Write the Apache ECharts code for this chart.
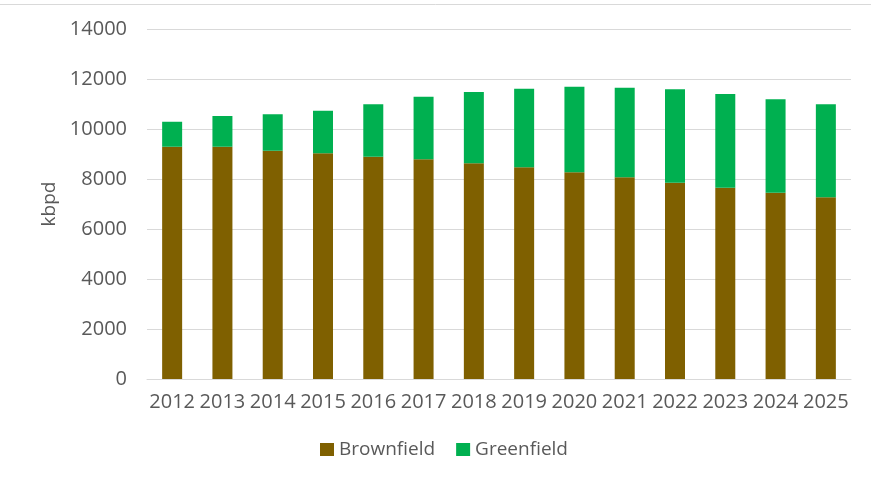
<!DOCTYPE html>
<html>
<head>
<meta charset="utf-8">
<script src="https://cdn.jsdelivr.net/npm/echarts@6/dist/echarts.min.js"></script>
<style>
html,body{margin:0;padding:0;background:#fff;}
#chart{width:871px;height:478px;}
</style>
</head>
<body>
<div id="chart"></div>
<script>
var years = ['2012','2013','2014','2015','2016','2017','2018','2019','2020','2021','2022','2023','2024','2025'];
var brownfield = [9290,9290,9130,9030,8890,8790,8630,8470,8270,8070,7850,7650,7450,7270];
var greenfield = [1000,1230,1460,1700,2100,2500,2850,3140,3420,3580,3740,3750,3740,3720];
var yTicks = [0,2000,4000,6000,8000,10000,12000,14000];

var font = '"Open Sans", sans-serif';
var textColor = '#595959';
var chart = echarts.init(document.getElementById('chart'));
chart.setOption({
  animation: false,
  backgroundColor: '#ffffff',
  graphic: [{
    type: 'line',
    shape: {x1: 0, y1: 4.5, x2: 871, y2: 4.5},
    style: {stroke: '#d9d9d9', lineWidth: 1}
  }],
  grid: {left: 147, right: 20, top: 29, bottom: 99},
  legend: {
    data: ['Brownfield', 'Greenfield'],
    bottom: 14,
    left: 315,
    itemWidth: 14,
    itemHeight: 13,
    itemGap: 21,
    icon: 'rect',
    textStyle: {fontFamily: font, fontSize: 19, color: textColor}
  },
  xAxis: {
    type: 'category',
    data: years,
    axisLine: {lineStyle: {color: '#d9d9d9'}},
    axisTick: {show: false},
    axisLabel: {fontFamily: font, fontSize: 20, color: textColor, margin: 13, interval: 0}
  },
  yAxis: {
    type: 'value',
    min: yTicks[0],
    max: yTicks[yTicks.length - 1],
    interval: 2000,
    name: 'kbpd',
    nameLocation: 'middle',
    nameGap: 88,
    nameTextStyle: {fontFamily: font, fontSize: 19, color: textColor},
    axisLine: {show: false},
    axisTick: {show: false},
    axisLabel: {fontFamily: font, fontSize: 20, color: textColor, margin: 20,
      formatter: function (v) { return String(v); }},
    splitLine: {lineStyle: {color: '#d9d9d9'}}
  },
  series: [
    {
      name: 'Brownfield',
      type: 'bar',
      stack: 'total',
      data: brownfield,
      barWidth: 20,
      itemStyle: {color: '#7f6000'}
    },
    {
      name: 'Greenfield',
      type: 'bar',
      stack: 'total',
      data: greenfield,
      barWidth: 20,
      itemStyle: {color: '#00b050'}
    }
  ]
});
</script>
</body>
</html>
